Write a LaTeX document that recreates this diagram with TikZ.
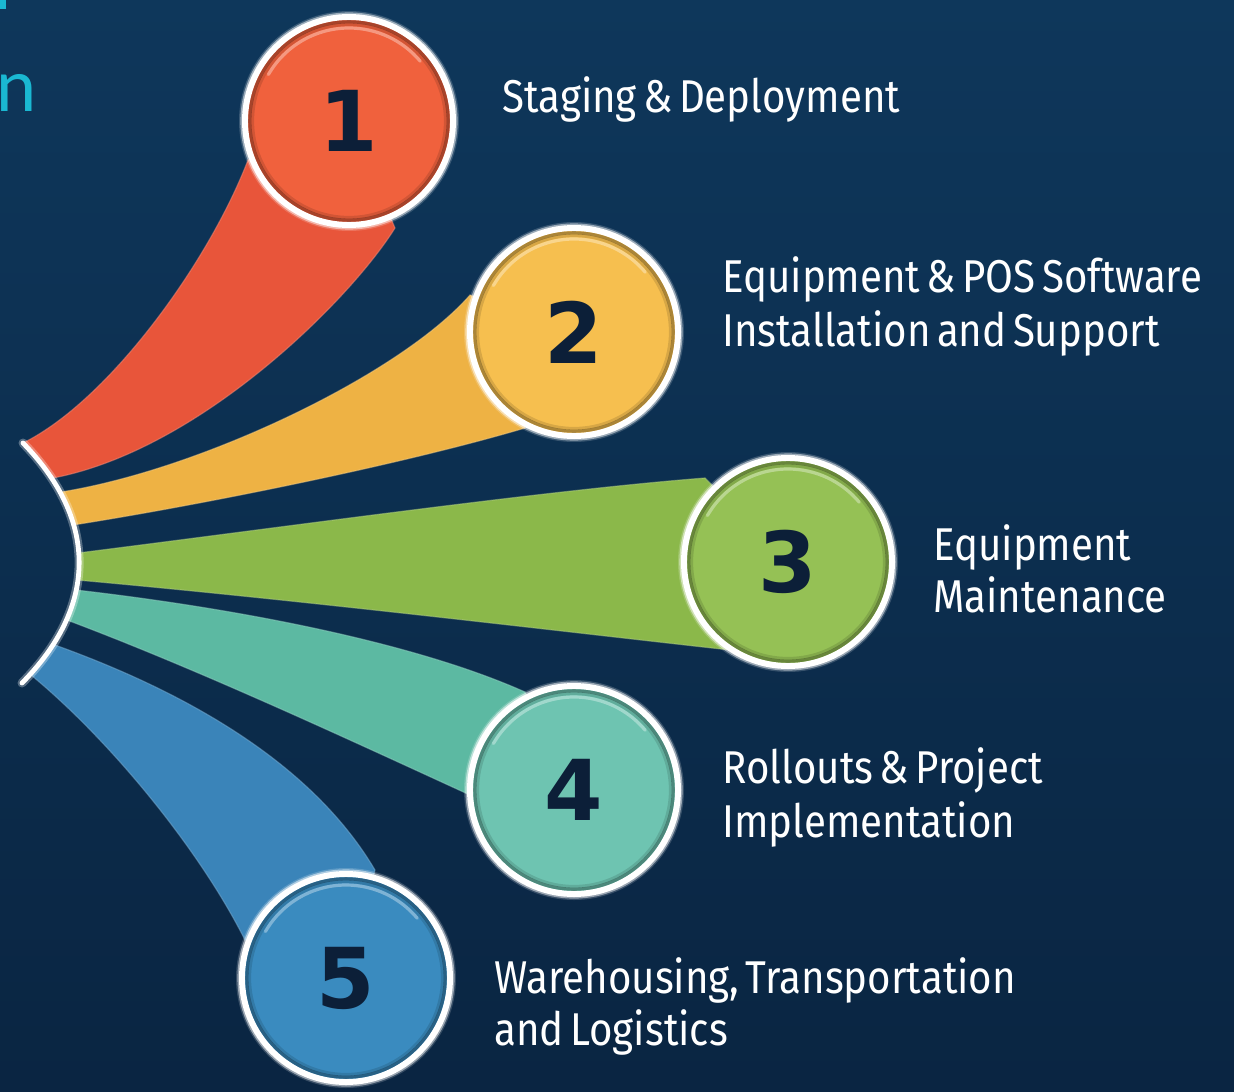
\documentclass[tikz,border=0pt]{standalone}
\usepackage{fontspec}
\newfontfamily\labfont[FakeStretch=0.875,WordSpace=0.6]{Fira Sans}
\newfontfamily\numfont{DejaVu Sans}
\newfontfamily\cyanfont{Lato}
\definecolor{bgtop}{HTML}{0E375B}
\definecolor{bgbot}{HTML}{0A2542}
\definecolor{numc}{HTML}{0C1F38}
\definecolor{cyanc}{HTML}{1AB8D2}
\definecolor{redR}{HTML}{E8553A}\definecolor{redC}{HTML}{F0613D}
\definecolor{yelR}{HTML}{EEB244}\definecolor{yelC}{HTML}{F6BF4F}
\definecolor{grnR}{HTML}{8BB84A}\definecolor{grnC}{HTML}{95C155}
\definecolor{tealR}{HTML}{5CB9A2}\definecolor{tealC}{HTML}{6EC4B1}
\definecolor{bluR}{HTML}{3A84B9}\definecolor{bluC}{HTML}{3A8BBF}
\begin{document}
\begin{tikzpicture}[x=0.5pt,y=-0.5pt,
  rib/.style={fill=#1, draw=#1!70!white, draw opacity=0.5, line width=0.6pt},
  disc/.style={circle, minimum size=104pt, inner sep=0pt, fill=#1, draw=white, line width=3pt,
    font=\numfont\bfseries\fontsize{42}{42}\selectfont, text=numc},
  lab/.style={anchor=base west, inner sep=0pt, text=white, font=\labfont\fontsize{23}{27}\selectfont}]
\useasboundingbox (0,0) rectangle (1234,1091);
\clip (0,0) rectangle (1234,1091);
\shade[top color=bgtop, bottom color=bgbot] (0,0) rectangle (1234,1091);
% partial title
\fill[cyanc] (0,0) rectangle (6,9);
\node[anchor=base west, inner sep=0pt, text=cyanc, font=\cyanfont\fontsize{36}{36}\selectfont] (ttl) at (-4,112) {n};
% ribbons
\fill[rib=redR] (23,443) .. controls (110,400) and (210,260) .. (248,160) -- (349,121) -- (395,228) .. controls (350,300) and (200,450) .. (53,478) -- cycle;
\fill[rib=yelR] (61,492) .. controls (200,470) and (400,375) .. (470,295) -- (574,332) -- (525,428) .. controls (400,465) and (200,505) .. (73,525) -- cycle;
\fill[rib=grnR] (78,553) .. controls (300,525) and (550,490) .. (705,478) -- (788,562) -- (730,650) .. controls (550,630) and (300,600) .. (77,580) -- cycle;
\fill[rib=tealR] (76,590) .. controls (250,610) and (420,645) .. (525,692) -- (574,790) -- (470,795) .. controls (350,740) and (200,670) .. (67,620) -- cycle;
\fill[rib=bluR] (55,645) .. controls (180,690) and (310,760) .. (375,870) -- (346,978) -- (245,940) .. controls (200,850) and (110,740) .. (31,675) -- cycle;
% arc
\draw[white, opacity=0.3, line width=4.5pt, line cap=round] (23,443) .. controls (98,520) and (98,606) .. (22,683);
\draw[white, line width=2.4pt, line cap=round] (23,443) .. controls (98,520) and (98,606) .. (22,683);
% circles
\foreach \p in {(349,121), (574,332), (788,562), (574,790), (346,978)}{
  \fill[white, opacity=0.18] \p circle[radius=55pt];
}
\node[disc=redC] (c1) at (349,121) {1};
\node[disc=yelC] (c2) at (574,332) {2};
\node[disc=grnC] (c3) at (788,562) {3};
\node[disc=tealC] (c4) at (574,790) {4};
\node[disc=bluC] (c5) at (346,978) {5};
\foreach \n in {c1,c2,c3,c4,c5}{
  \draw[white, opacity=0.5, line width=1pt] (\n.center) circle[radius=53.8pt];
  \draw[black, opacity=0.3, line width=1.6pt] (\n.center) circle[radius=49.6pt];
  \draw[black, opacity=0.12, line width=1.5pt] (\n.center) circle[radius=48.2pt];
  \draw[white, opacity=0.35, line width=1.6pt, line cap=round] ([shift={(150:46.5pt)}]\n.center) arc[start angle=150, end angle=40, radius=46.5pt];
}
% labels
\node[lab] (l1) at (502,113) {Staging \& Deployment};
\node[lab] (l2a) at (722,292) {Equipment \& POS Software};
\node[lab] (l2b) at (722,346) {Installation and Support};
\node[lab] (l3a) at (933,560) {Equipment};
\node[lab] (l3b) at (933,612) {Maintenance};
\node[lab] (l4a) at (722,783) {Rollouts \& Project};
\node[lab] (l4b) at (722,837) {Implementation};
\node[lab] (l5a) at (494,993) {Warehousing, Transportation};
\node[lab] (l5b) at (494,1045) {and Logistics};
\end{tikzpicture}
\end{document}
